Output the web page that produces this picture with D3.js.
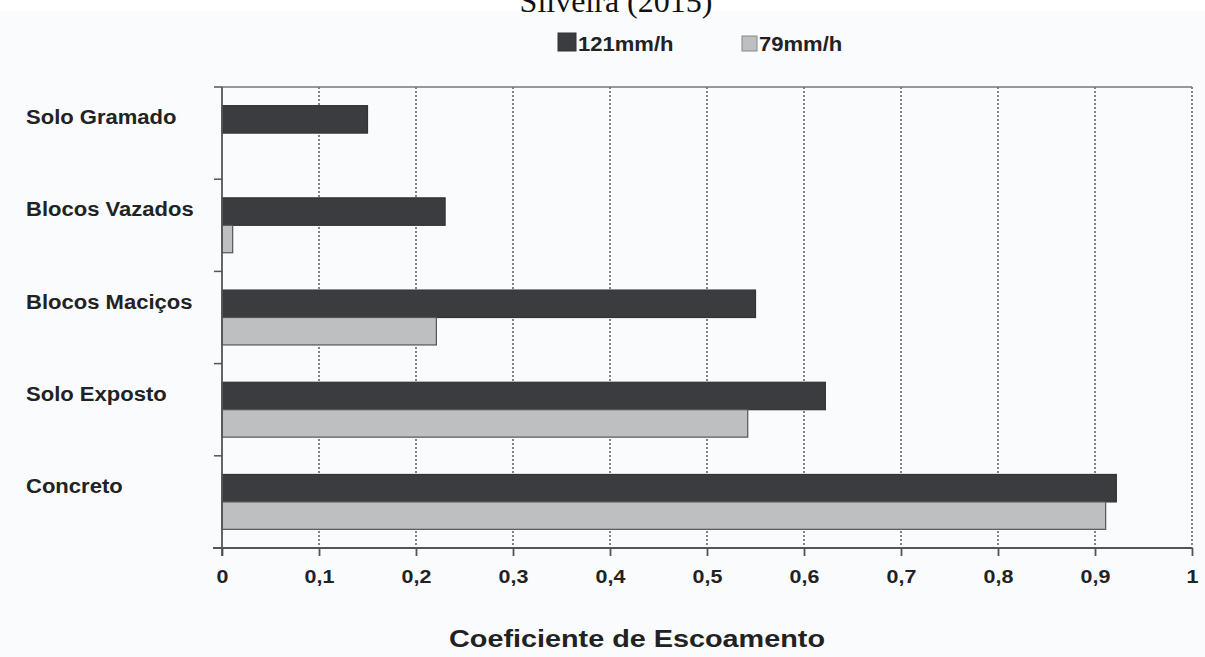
<!DOCTYPE html>
<html><head><meta charset="utf-8">
<script src="https://cdn.jsdelivr.net/npm/d3@7/dist/d3.min.js"></script>
<style>
html,body{margin:0;padding:0;background:#f9fbfc;}
svg{display:block;}
text{font-family:"Liberation Sans",Arial,sans-serif;fill:#222;}
</style></head>
<body>
<svg id="chart" width="1205" height="657"></svg>
<script>
const categories = ["Solo Gramado","Blocos Vazados","Blocos Maciços","Solo Exposto","Concreto"];
const seriesNames = ["121mm/h","79mm/h"];
const values121 = [0.15, 0.23, 0.55, 0.622, 0.922];
const values79 = [0, 0.011, 0.221, 0.542, 0.911];
const xTicks = [0,0.1,0.2,0.3,0.4,0.5,0.6,0.7,0.8,0.9,1];
const xTickLabels = ["0","0,1","0,2","0,3","0,4","0,5","0,6","0,7","0,8","0,9","1"];
const colors = ["#3a3c3f","#bdbfc1"];

(function(){
const svg = d3.select("#chart");
svg.append("rect").attr("width",1205).attr("height",657).attr("fill","#f9fbfc");
svg.append("rect").attr("width",1205).attr("height",11).attr("fill","#ffffff");

const pLeft=222, pRight=1192, pTop=87, pBottom=548;
const SX = 1.13;
const x = d3.scaleLinear().domain([0,1]).range([pLeft,pRight]);
const y = d3.scaleBand().domain(categories).range([pTop,pBottom]).padding(0);
const y1 = d3.scaleBand().domain(seriesNames).range([0,y.bandwidth()]).paddingOuter(0.68).paddingInner(0);

// title (cut at top, as in the source image)
svg.append("text").attr("x",616).attr("y",12).attr("text-anchor","middle")
  .style("font-family","'Liberation Serif','Times New Roman',serif").style("font-size","32px").style("fill","#111")
  .text("Silveira (2015)");

// gridlines
svg.append("g").selectAll("line").data(xTicks.slice(1)).join("line")
  .attr("x1",d=>x(d)).attr("x2",d=>x(d)).attr("y1",pTop).attr("y2",pBottom)
  .attr("stroke","#444").attr("stroke-width",1.3).attr("stroke-dasharray","2,2");

// top border
svg.append("line").attr("x1",pLeft).attr("x2",pRight).attr("y1",pTop).attr("y2",pTop)
  .attr("stroke","#777").attr("stroke-width",1.5);

// bars
const data = categories.map((c,i)=>({cat:c, vals:[values121[i], values79[i]]}));
const g = svg.append("g").selectAll("g").data(data).join("g")
  .attr("transform",d=>`translate(0,${y(d.cat)})`);
g.selectAll("rect").data(d=>d.vals.map((v,j)=>({v, s:seriesNames[j], j})).filter(e=>e.v>0)).join("rect")
  .attr("x",x(0)).attr("y",e=>y1(e.s)).attr("width",e=>x(e.v)-x(0)).attr("height",y1.bandwidth())
  .attr("fill",e=>colors[e.j]).attr("stroke",e=>e.j===0?"#333":"#555").attr("stroke-width",1.2);

// x axis
const xAxis = d3.axisBottom(x).tickValues(xTicks).tickFormat((d,i)=>xTickLabels[i]).tickSize(8).tickPadding(14);
const xa = svg.append("g").attr("transform",`translate(0,${pBottom})`).call(xAxis);
xa.select(".domain").remove();
xa.append("line").attr("x1",pLeft-9).attr("x2",pRight).attr("stroke","#555").attr("stroke-width",1.8);
xa.selectAll(".tick line").attr("stroke","#555").attr("stroke-width",1.8);
xa.selectAll(".tick text").style("font-size","19px").style("font-weight","bold").style("fill","#222")
  .style("font-family","'Liberation Sans',Arial,sans-serif").attr("transform",`scale(${SX},1)`);

// y axis line & ticks at band boundaries
svg.append("line").attr("x1",pLeft).attr("x2",pLeft).attr("y1",pTop).attr("y2",pBottom+8)
  .attr("stroke","#555").attr("stroke-width",1.8);
svg.append("g").selectAll("line").data(categories).join("line")
  .attr("x1",pLeft-8).attr("x2",pLeft).attr("y1",d=>y(d)).attr("y2",d=>y(d))
  .attr("stroke","#555").attr("stroke-width",1.5);

// category labels (aligned with first bar)
svg.append("g").selectAll("text").data(categories).join("text")
  .attr("transform",d=>`translate(26,${y(d)+y1(seriesNames[0])+y1.bandwidth()/2-2}) scale(${SX},1)`)
  .attr("dy","0.35em")
  .style("font-size","19.5px").style("font-weight","bold").text(d=>d);

// legend
const legX = [558, 742];
const legSize = [18, 15];
const lg = svg.append("g").selectAll("g").data(seriesNames).join("g")
  .attr("transform",(d,i)=>`translate(${legX[i]},${i===0?33:36})`);
lg.append("rect").attr("width",(d,i)=>legSize[i]).attr("height",(d,i)=>legSize[i]).attr("fill",(d,i)=>colors[i])
  .attr("stroke",(d,i)=>i===0?"#333":"#888").attr("stroke-width",1);
lg.append("text")
  .attr("transform",(d,i)=>`translate(${i===0?20:17},${i===0?18:15}) scale(${SX},1)`)
  .style("font-size","19.5px").style("font-weight","bold").text(d=>d);

// x axis title
svg.append("text").attr("transform",`translate(637,647) scale(1.2,1)`).attr("text-anchor","middle")
  .style("font-size","24px").style("font-weight","bold").text("Coeficiente de Escoamento");
})();
</script>
</body></html>
